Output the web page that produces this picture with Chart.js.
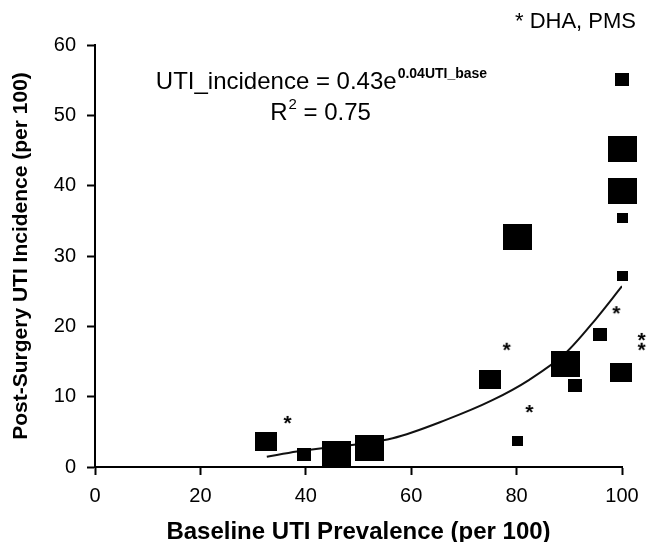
<!DOCTYPE html>
<html><head><meta charset="utf-8">
<script src="https://cdn.jsdelivr.net/npm/chart.js@4/dist/chart.umd.min.js"></script>
<style>html,body{margin:0;padding:0;background:#fff}</style>
</head><body>
<canvas id="c" width="652" height="542"></canvas>
<script>
// ---- data ----
const studyX = [32.4, 39.6, 45.8, 52.0, 74.9, 80.1, 80.1, 89.3, 91.1, 95.9, 99.9, 100, 100, 100, 100, 100];
const studyY = [3.65, 1.82, 1.8, 2.73, 12.5, 3.65, 32.7, 14.6, 11.6, 18.8, 13.4, 27.2, 35.4, 39.3, 45.2, 55.1];
const studyWeight = [2, 1, 3, 3, 2, 0, 3, 3, 1, 1, 2, 0, 0, 3, 3, 1]; // marker size class
const starX = [103.8, 103.8, 36.6, 78.2, 82.5, 99.0];
const starY = [18.5, 17.1, 6.7, 17.1, 8.25, 22.3];
const trendX = [32.6, 38.3, 56.5, 66.6, 75.4, 82.4, 89.3, 95.0, 100.0];
const trendY = [1.46, 2.2, 4.1, 6.7, 9.5, 12.4, 16.2, 21.0, 25.7];
const xTicks = [0, 20, 40, 60, 80, 100];
const yTicks = [0, 10, 20, 30, 40, 50, 60];
const xTitle = 'Baseline UTI Prevalence (per 100)';
const yTitle = 'Post-Surgery UTI Incidence (per 100)';
const eqMain = 'UTI_incidence = 0.43e';
const eqSup = '0.04UTI_base';
const r2Text = ['R', '2', ' = 0.75'];
const noteText = '* DHA, PMS';

// ---- styles ----
const FONT = '"Liberation Sans", Arial, sans-serif';
function rectImg(w, h) {
  const c = document.createElement('canvas'); c.width = w; c.height = h;
  const g = c.getContext('2d'); g.fillStyle = '#000'; g.fillRect(0, 0, w, h); return c;
}
const markerShapes = [rectImg(11, 10), rectImg(14, 13), rectImg(22, 19), rectImg(29, 26)];
function starImg() {
  const c = document.createElement('canvas'); c.width = 18; c.height = 18;
  const g = c.getContext('2d'); g.fillStyle = '#000'; g.font = 'bold 21px ' + FONT;
  const m = g.measureText('*');
  const w = m.actualBoundingBoxLeft + m.actualBoundingBoxRight;
  const h = m.actualBoundingBoxAscent + m.actualBoundingBoxDescent;
  g.fillText('*', 9 - w / 2 + m.actualBoundingBoxLeft, 9 - h / 2 + m.actualBoundingBoxAscent);
  return c;
}
const starShape = starImg();

const textPlugin = {
  id: 'texts',
  afterDraw(chart) {
    const ctx = chart.ctx;
    ctx.save();
    ctx.fillStyle = '#000';
    ctx.textBaseline = 'alphabetic';
    // note top-right
    ctx.font = '22px ' + FONT;
    ctx.textAlign = 'left';
    ctx.fillText(noteText, 515, 28);
    // equation
    const mainFont = '24px ' + FONT, supFont = 'bold 14px ' + FONT;
    ctx.font = mainFont; const w1 = ctx.measureText(eqMain).width;
    ctx.font = supFont; const w2 = ctx.measureText(eqSup).width;
    let x = 321 - (w1 + w2) / 2;
    ctx.font = mainFont; ctx.fillText(eqMain, x, 89);
    ctx.font = supFont; ctx.fillText(eqSup, x + w1 + 1, 78);
    // R^2
    ctx.font = mainFont; const a = ctx.measureText(r2Text[0]).width, c = ctx.measureText(r2Text[2]).width;
    ctx.font = '15px ' + FONT; const b = ctx.measureText(r2Text[1]).width;
    x = 320 - (a + b + c) / 2;
    ctx.font = mainFont; ctx.fillText(r2Text[0], x, 120);
    ctx.font = '15px ' + FONT; ctx.fillText(r2Text[1], x + a + 1, 109);
    ctx.font = mainFont; ctx.fillText(r2Text[2], x + a + b + 1, 120);
    ctx.restore();
  }
};

const axisCommon = {
  border: { display: true, color: '#000', width: 2 },
  grid: { display: true, drawOnChartArea: false, drawTicks: true, tickLength: 8, tickColor: '#000', tickWidth: 2, color: '#000' }
};

new Chart(document.getElementById('c'), {
  type: 'scatter',
  data: {
    datasets: [
      {
        label: 'studies',
        data: studyX.map((v, i) => ({ x: v, y: studyY[i] })),
        pointStyle: ctx => markerShapes[studyWeight[ctx.dataIndex]],
        pointRadius: 16, pointHoverRadius: 16, borderWidth: 0,
        backgroundColor: '#000', clip: false
      },
      {
        label: 'DHA, PMS',
        data: starX.map((v, i) => ({ x: v, y: starY[i] })),
        pointStyle: starShape,
        pointRadius: 30, pointHoverRadius: 30, borderWidth: 0,
        backgroundColor: '#000', clip: false
      },
      {
        label: 'trend',
        data: trendX.map((v, i) => ({ x: v, y: trendY[i] })),
        showLine: true, pointRadius: 0, borderColor: '#111', borderWidth: 2,
        cubicInterpolationMode: 'monotone', fill: false
      }
    ]
  },
  options: {
    responsive: false, animation: false, devicePixelRatio: 1,
    layout: { padding: { left: 0, right: 29, top: 45, bottom: 0 } },
    plugins: { legend: { display: false }, tooltip: { enabled: false } },
    scales: {
      x: Object.assign({}, axisCommon, {
        type: 'linear', min: 0, max: 100,
        afterBuildTicks: s => { s.ticks = xTicks.map(v => ({ value: v })); },
        afterFit: s => { s.height = 75; },
        ticks: { color: '#000', font: { family: FONT, size: 20 }, padding: 9, maxRotation: 0 },
        title: { display: true, text: xTitle, color: '#000', font: { family: FONT, size: 24, weight: 'bold', lineHeight: 0.8 }, padding: 0 }
      }),
      y: Object.assign({}, axisCommon, {
        type: 'linear', min: 0, max: 60,
        afterBuildTicks: s => { s.ticks = yTicks.map(v => ({ value: v })); },
        afterFit: s => { s.width = 95; },
        ticks: { color: '#000', font: { family: FONT, size: 20 }, padding: 11 },
        title: { display: true, text: yTitle, color: '#000', font: { family: FONT, size: 21, weight: 'bold', lineHeight: 1.2 }, padding: { top: 9, bottom: 0 } }
      })
    }
  },
  plugins: [textPlugin]
});
</script>
</body></html>
